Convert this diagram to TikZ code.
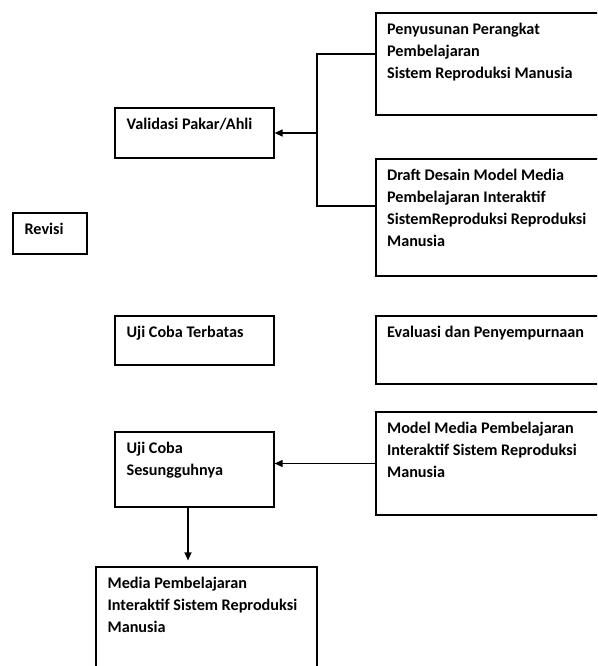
\documentclass[tikz,border=0pt]{standalone}
\usepackage{fontspec}
\setmainfont{Carlito}
\usetikzlibrary{arrows.meta}

\begin{document}
\begin{tikzpicture}[x=1pt,y=-1pt,
            box/.style={draw, line width=1.2pt, inner sep=0pt},
            txt/.style={anchor=north west, inner sep=0pt, align=left, font=\fontsize{16.2}{22}\selectfont\bfseries},
            arr/.style={line width=1.2pt, -{Triangle[length=8pt,width=7pt]}}]
            \clip (0,0) rectangle (597,666);
            \node[box, minimum width=224pt, minimum height=102pt] at (488,64) (pp) {};
            \node[box, minimum width=159pt, minimum height=50pt] at (194.5,133) (va) {};
            \node[box, minimum width=224pt, minimum height=117pt] at (488,217.5) (dd) {};
            \node[box, minimum width=74pt, minimum height=41pt] at (50,233.5) (rv) {};
            \node[box, minimum width=159pt, minimum height=49pt] at (194.5,340.5) (ut) {};
            \node[box, minimum width=224pt, minimum height=68pt] at (488,350) (ev) {};
            \node[box, minimum width=224pt, minimum height=103pt] at (488,463.5) (mm) {};
            \node[box, minimum width=159pt, minimum height=75pt] at (194.5,469.5) (us) {};
            \node[box, minimum width=221pt, minimum height=105pt] at (206.5,619.5) (mp) {};

            \node[txt] at ([shift={(11.5pt,-11pt)}]pp.north west) (pp-t) {Penyusunan Perangkat\\Pembelajaran\\Sistem Reproduksi Manusia};
            \node[txt] at ([shift={(12pt,-11pt)}]va.north west) (va-t) {Validasi Pakar/Ahli};
            \node[txt] at ([shift={(11.5pt,-11pt)}]dd.north west) (dd-t) {Draft Desain Model Media\\Pembelajaran Interaktif\\SistemReproduksi Reproduksi\\Manusia};
            \node[txt] at ([shift={(12pt,-11pt)}]rv.north west) (rv-t) {Revisi};
            \node[txt] at ([shift={(12pt,-11pt)}]ut.north west) (ut-t) {Uji Coba Terbatas};
            \node[txt] at ([shift={(11.5pt,-11pt)}]ev.north west) (ev-t) {Evaluasi dan Penyempurnaan};
            \node[txt] at ([shift={(11.5pt,-11pt)}]mm.north west) (mm-t) {Model Media Pembelajaran\\Interaktif Sistem Reproduksi\\Manusia};
            \node[txt] at ([shift={(12pt,-11pt)}]us.north west) (us-t) {Uji Coba\\Sesungguhnya};
            \node[txt] at ([shift={(12pt,-11pt)}]mp.north west) (mp-t) {Media Pembelajaran\\Interaktif Sistem Reproduksi\\Manusia};

            \coordinate (j) at (317,133);
            \draw[line width=1.2pt] ([yshift=10pt]pp.west) -| (j) |- ([yshift=11.5pt]dd.west);
            \draw[arr] (j) -- (va.east);
            \draw[arr] (mm.west) -- (us.east |- mm.west);
            \draw[arr] ([xshift=-6.5pt]us.south) -- ([xshift=-18.5pt,yshift=6pt]mp.north);
\end{tikzpicture}
\end{document}
